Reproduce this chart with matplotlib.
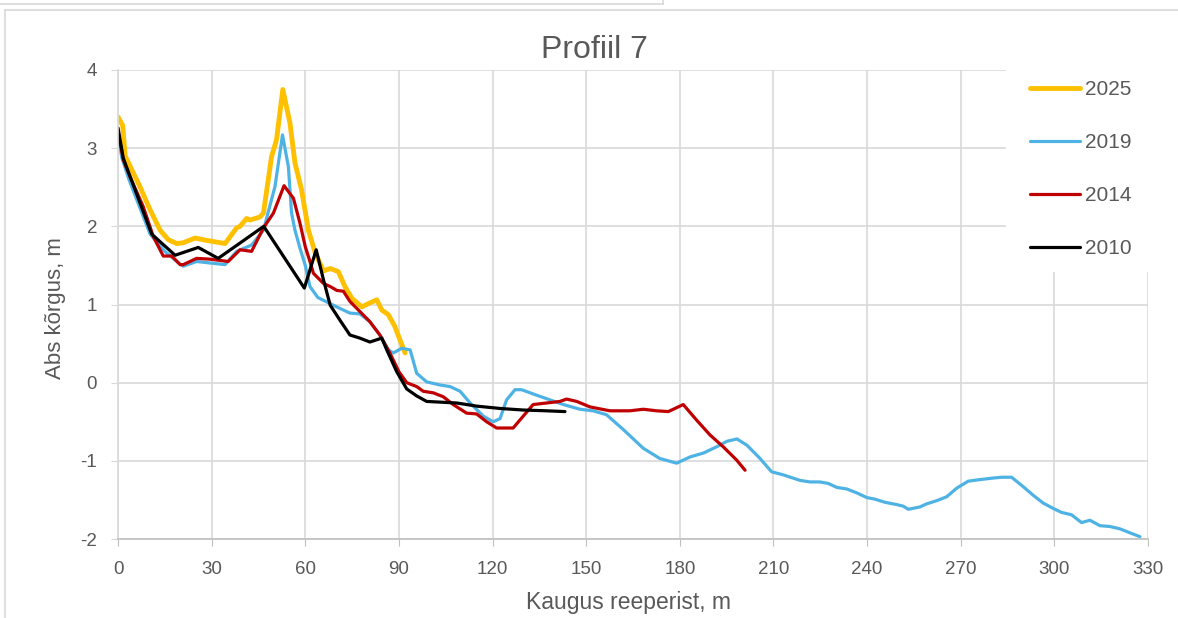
import matplotlib
matplotlib.use('Agg')
import matplotlib.pyplot as plt
from matplotlib.lines import Line2D
from matplotlib.patches import Rectangle

plt.rcParams['font.family'] = ['Liberation Sans', 'DejaVu Sans']

# ---- data ----
x_2025 = [0, 1.5, 2.3, 7, 10.3, 13.5, 16.1, 18.8, 20.9, 24.7, 28.4, 34.3, 38, 39.1, 41.2, 42.3,
          45.5, 46.6, 49.2, 50.8, 52.8, 55.1, 56.7, 58.8, 61, 63.1, 65.8, 68, 70.6, 72.7, 74.9,
          78.1, 80.7, 82.9, 84.5, 86.6, 88.7, 90.3, 92]
y_2025 = [3.40, 3.29, 2.90, 2.51, 2.21, 1.95, 1.83, 1.78, 1.79, 1.85, 1.82, 1.78, 1.98, 2.00, 2.10, 2.08,
          2.12, 2.17, 2.89, 3.11, 3.75, 3.32, 2.81, 2.47, 1.95, 1.67, 1.43, 1.46, 1.42, 1.23, 1.08,
          0.97, 1.02, 1.06, 0.93, 0.87, 0.72, 0.55, 0.38]

x_2019 = [0, 1.2, 3.5, 10.3, 15, 19.8, 20.9, 25.2, 34.3, 38, 42.8, 46.6, 50.3, 52.7, 54.6, 55.6, 56.7,
          58.3, 60, 61.5, 64, 68, 71.1, 74.3, 77.5, 80.7, 83.9, 86.6, 88.2, 90.9, 93.6, 95.7, 98.9,
          103.2, 106.4, 109.6, 112.8, 117.1, 120.2, 122.4, 124.5, 127.2, 129.3, 134.1, 138.4, 142.7,
          148, 152.2, 156.5, 161.9, 168.3, 173.6, 179, 183.3, 187.6, 191.8, 195.1, 198.3, 201.5,
          205.7, 209.4, 213.2, 218.5, 221.7, 224.9, 227.6, 230.3, 233.5, 236.7, 239.9, 242.5, 245.7,
          249.5, 251.6, 253.2, 256.9, 259.1, 262.3, 265.5, 268.7, 272.4, 276.2, 280.4, 283.1, 286.3,
          290, 293.2, 296.4, 299.7, 302.3, 305.5, 308.7, 311.4, 314.6, 317.8, 321, 324.8, 327.4]
y_2019 = [3.19, 2.88, 2.60, 1.90, 1.68, 1.52, 1.49, 1.55, 1.51, 1.68, 1.76, 1.95, 2.51, 3.17, 2.76, 2.17, 1.95,
          1.72, 1.50, 1.23, 1.09, 1.01, 0.95, 0.89, 0.88, 0.78, 0.61, 0.42, 0.38, 0.44, 0.42, 0.12, 0.01,
          -0.03, -0.05, -0.11, -0.26, -0.43, -0.50, -0.46, -0.22, -0.09, -0.09, -0.16, -0.22, -0.28,
          -0.34, -0.36, -0.41, -0.60, -0.84, -0.97, -1.03, -0.95, -0.90, -0.82, -0.75, -0.72, -0.80,
          -0.97, -1.14, -1.18, -1.25, -1.27, -1.27, -1.29, -1.34, -1.36, -1.41, -1.47, -1.49, -1.53,
          -1.56, -1.58, -1.62, -1.59, -1.55, -1.51, -1.46, -1.35, -1.26, -1.24, -1.22, -1.21, -1.21,
          -1.33, -1.44, -1.54, -1.61, -1.66, -1.69, -1.79, -1.76, -1.83, -1.84, -1.87, -1.93, -1.97]

x_2014 = [0, 1.7, 3.8, 8.1, 11.3, 14.5, 17.2, 19.9, 20.9, 25.2, 29.5, 35.3, 39.1, 42.8, 46.6, 49.8,
          53.2, 56.2, 58.3, 60, 61.5, 62.6, 65.8, 68, 70.1, 72.2, 74.3, 77.5, 80.7, 83.9, 87.1, 90,
          92.5, 95.7, 97.8, 101, 104.2, 107.4, 111.7, 114.9, 118.1, 121.3, 126.6, 129.8, 133, 137.3,
          141.6, 143.7, 147, 151.2, 157.6, 164, 168.3, 172.6, 176.3, 181.1, 185.4, 189.7, 193.9,
          198.2, 200.9]
y_2014 = [3.22, 2.85, 2.64, 2.25, 1.87, 1.62, 1.62, 1.51, 1.51, 1.59, 1.58, 1.55, 1.70, 1.68, 1.98, 2.17,
          2.52, 2.36, 2.04, 1.74, 1.55, 1.40, 1.27, 1.23, 1.18, 1.17, 1.04, 0.91, 0.78, 0.61, 0.38, 0.14,
          0.00, -0.05, -0.11, -0.13, -0.18, -0.28, -0.39, -0.40, -0.50, -0.58, -0.58, -0.43, -0.28, -0.26,
          -0.24, -0.21, -0.24, -0.31, -0.36, -0.36, -0.34, -0.36, -0.37, -0.28, -0.48, -0.67, -0.82,
          -0.99, -1.12]

x_2010 = [0, 1.7, 10.8, 18.3, 25.7, 32.1, 46.7, 59.7, 63.5, 65.8, 68, 71.1, 74.3, 77.5, 80.7, 84.5,
          86.1, 89.3, 92.5, 95.7, 98.9, 108.5, 114.9, 122.4, 129.8, 137.3, 143.2]
y_2010 = [3.26, 2.87, 1.90, 1.63, 1.73, 1.59, 2.00, 1.21, 1.70, 1.32, 0.99, 0.80, 0.61, 0.57, 0.52, 0.57,
          0.42, 0.14, -0.08, -0.17, -0.24, -0.26, -0.30, -0.33, -0.35, -0.36, -0.37]

series = [("2025", x_2025, y_2025, "#FFC000", 3.5),
          ("2019", x_2019, y_2019, "#4EB3E4", 2.3),
          ("2014", x_2014, y_2014, "#C00000", 2.3),
          ("2010", x_2010, y_2010, "#000000", 2.3)]

x_ticks = list(range(0, 331, 30))
y_ticks = [-2, -1, 0, 1, 2, 3, 4]

TXT = "#595959"
GRID = "#D9D9D9"

W, H = 1178, 618
fig = plt.figure(figsize=(W / 100, H / 100), dpi=100)

# outer frame lines (chart area border + element above)
fig.add_artist(Line2D([0, 663 / W], [1 - 4 / H, 1 - 4 / H], color=GRID, lw=1.2))
fig.add_artist(Line2D([663 / W, 663 / W], [1, 1 - 4 / H], color=GRID, lw=1.2))
fig.add_artist(Line2D([5 / W, 1], [1 - 10 / H, 1 - 10 / H], color=GRID, lw=1.2))
fig.add_artist(Line2D([5 / W, 5 / W], [0, 1 - 10 / H], color=GRID, lw=1.2))

ax = fig.add_axes([118 / W, 1 - 539 / H, 1030 / W, 469 / H])
handles = []
for name, xs, ys, col, lw in series:
    h, = ax.plot(xs, ys, color=col, lw=lw, label=name, solid_joinstyle='round', solid_capstyle='round')
    handles.append(h)

ax.set_xlim(0, 330)
ax.set_ylim(-2, 4)
ax.set_xticks(x_ticks)
ax.set_yticks(y_ticks)
ax.set_yticklabels([str(v) for v in y_ticks])
ax.grid(True, color=GRID, lw=1.2)
ax.set_axisbelow(True)
for s in ['top', 'right']:
    ax.spines[s].set_visible(False)
ax.spines['left'].set_color(GRID)
ax.spines['bottom'].set_color("#BFBFBF")
ax.spines['left'].set_linewidth(1.2)
ax.spines['bottom'].set_linewidth(1.2)
ax.tick_params(axis='x', length=5, color="#BFBFBF", labelsize=13.5, labelcolor=TXT, pad=11)
ax.tick_params(axis='y', length=5, color=GRID, labelsize=13.5, labelcolor=TXT, pad=10)

fig.text(594 / W, 1 - 50 / H, "Profiil 7", ha='center', va='center', fontsize=23, color=TXT)
fig.text(55 / W, 1 - 308 / H, "Abs kõrgus, m", ha='center', va='center', rotation=90, fontsize=16, color=TXT)
fig.text(628 / W, 1 - 603 / H, "Kaugus reeperist, m", ha='center', va='center', fontsize=16.5, color=TXT)

# legend area covering grid
fig.add_artist(Rectangle((1006 / W, 1 - 272 / H), (W - 1006) / W, (272 - 60) / H,
                         transform=fig.transFigure, facecolor='white', edgecolor='none', zorder=1))
leg = fig.legend(handles=handles, loc='upper left', bbox_to_anchor=(1030 / W, 1 - 80 / H),
                 frameon=False, fontsize=15, labelcolor=TXT, handlelength=2.4, handletextpad=0.25,
                 labelspacing=1.63, borderpad=0, borderaxespad=0)
leg.set_zorder(5)

fig.savefig("out.png", dpi=100, facecolor='white')
